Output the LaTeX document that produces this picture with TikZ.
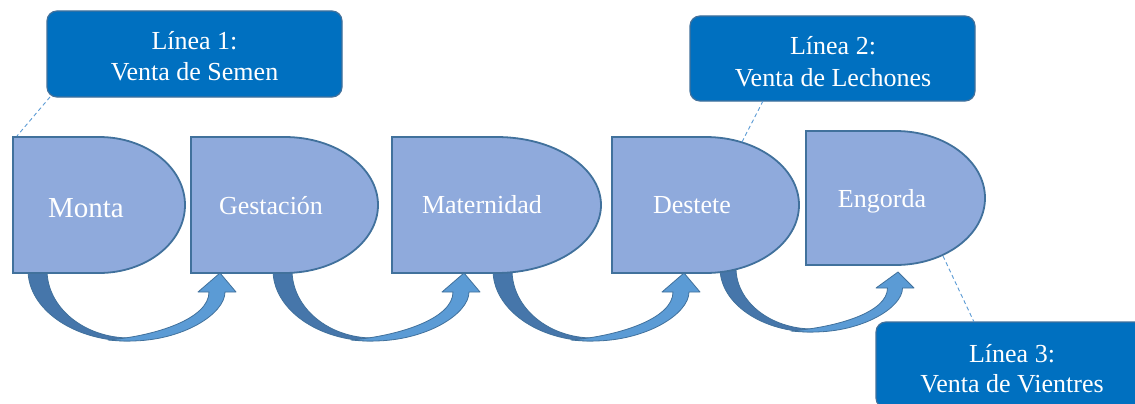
\documentclass[tikz,border=0pt]{standalone}
\usepackage{fontspec}
\setmainfont{Liberation Serif}
\definecolor{shapefill}{RGB}{143,170,220}
\definecolor{shapeline}{RGB}{65,113,156}
\definecolor{calloutfill}{RGB}{0,112,192}
\definecolor{arrowdark}{RGB}{70,118,170}
\definecolor{arrowlight}{RGB}{91,155,213}
\definecolor{leadercol}{RGB}{91,155,213}
\tikzset{
  stage/.style={fill=shapefill, draw=shapeline, line width=1.8pt},
  stagetext/.style={text=white, anchor=base, inner sep=0pt, font=\fontsize{26}{31}\selectfont},
  callout/.style={fill=calloutfill, draw=shapeline, line width=1.2pt, rounded corners=10pt, inner sep=0pt},
  callouttext/.style={text=white, anchor=base, inner sep=0pt, font=\fontsize{26}{31}\selectfont},
  leader/.style={draw=leadercol, line width=0.9pt, dash pattern=on 4pt off 3pt},
  backband/.style={fill=arrowdark, draw=shapeline, line width=0.8pt},
  frontband/.style={fill=arrowlight, draw=shapeline, line width=0.8pt, line join=round},
}
% delay shape: L T R B
\newcommand{\delayshape}[4]{%
  \pgfmathsetmacro{\dM}{(#1+#3)/2}%
  \pgfmathsetmacro{\dC}{(#2+#4)/2}%
  \pgfmathsetmacro{\dkx}{\dM+0.5523*(#3-#1)/2}%
  \pgfmathsetmacro{\dkyA}{\dC-0.5523*(#4-#2)/2}%
  \pgfmathsetmacro{\dkyB}{\dC+0.5523*(#4-#2)/2}%
  \draw[stage] (#1,#2) -- (\dM,#2) .. controls (\dkx,#2) and (#3,\dkyA) .. (#3,\dC)
     .. controls (#3,\dkyB) and (\dkx,#4) .. (\dM,#4) -- (#1,#4) -- cycle;
}
% curved up arrow: a b yt c yb tipx tipy headlen shafthalfwidth
\newcommand{\curvedarrow}[9]{%
  \pgfmathsetmacro{\aoA}{#3+0.5523*(#5-#3)}%
  \pgfmathsetmacro{\aoB}{#4-0.5523*(#4-#1)}%
  \pgfmathsetmacro{\aiy}{#5-3}%
  \pgfmathsetmacro{\aiA}{#4-0.5523*(#4-#2)}%
  \pgfmathsetmacro{\aiB}{#3+0.5523*(\aiy-#3)}%
  \path[backband] (#1,#3) .. controls (#1,\aoA) and (\aoB,#5) .. (#4,#5) -- (#4,\aiy)
     .. controls (\aiA,\aiy) and (#2,\aiB) .. (#2,#3) -- cycle;
  \pgfmathsetmacro{\hx}{#6-3}%
  \pgfmathsetmacro{\yh}{#7+#8}%
  \pgfmathsetmacro{\sR}{\hx+#9}%
  \pgfmathsetmacro{\sL}{\hx-#9}%
  \pgfmathsetmacro{\bR}{\hx+19}%
  \pgfmathsetmacro{\bL}{\hx-19}%
  \pgfmathsetmacro{\lA}{#4+0.5523*(\sR-#4)}%
  \pgfmathsetmacro{\lB}{#5-0.5523*(#5-\yh)}%
  \pgfmathsetmacro{\lS}{#4-22}%
  \pgfmathsetmacro{\lSy}{#5-1}%
  \pgfmathsetmacro{\lQ}{#4-10}%
  \pgfmathsetmacro{\lC}{\yh+0.55*(#5-\yh)}%
  \pgfmathsetmacro{\lD}{#4+25}%
  \pgfmathsetmacro{\lE}{#5-5}%
  \path[frontband] (\lS,\lSy) .. controls (\lQ,#5) .. (#4,#5)
     .. controls (\lA,#5) and (\sR,\lB) .. (\sR,\yh) -- (\bR,\yh) -- (#6,#7) -- (\bL,\yh) -- (\sL,\yh)
     .. controls (\sL,\lC) and (\lD,\lE) .. (\lS,\lSy) -- cycle;
}
\begin{document}
\begin{tikzpicture}[x=1pt,y=-1pt]
\clip (0,0) rectangle (1135,404);
\fill[white] (0,0) rectangle (1135,404);

% curved arrows (behind the stages)
\curvedarrow{28}{47}{270}{130}{341}{220}{273}{19}{8}
\curvedarrow{273}{292}{270}{373}{341}{464}{273}{19}{8}
\curvedarrow{493}{512}{270}{593}{341}{684}{273}{19}{8}
\curvedarrow{720}{736}{268}{813}{332}{898}{272}{16}{7.5}

% stages
\delayshape{13}{137}{185}{273}
\delayshape{191}{137}{378}{273}
\delayshape{392}{137}{601}{273}
\delayshape{612}{137}{799}{273}
\delayshape{806}{131}{985}{265}

\node[stagetext, font=\fontsize{29}{34}\selectfont] (monta) at (86,217) {Monta};
\node[stagetext] (gestacion) at (271,214) {Gestación};
\node[stagetext] (maternidad) at (482,213) {Maternidad};
\node[stagetext] (destete) at (692,213) {Destete};
\node[stagetext] (engorda) at (882,207) {Engorda};

% leader end points
\coordinate (m1) at (17,136);
\coordinate (m2) at (742,142);
\coordinate (m3) at (943,256);

% callouts
\node[callout, minimum width=295pt, minimum height=86pt] (c1) at (194.5,54) {};
\node[callout, minimum width=285pt, minimum height=85pt] (c2) at (832.5,58.5) {};
\node[callout, minimum width=272pt, minimum height=86pt] (c3) at (1012,365) {};

\coordinate (c1p) at (50,97);
\coordinate (c2p) at (763,101);
\coordinate (c3p) at (974,322);
\draw[leader] (c1p) -- (m1);
\draw[leader] (c2p) -- (m2);
\draw[leader] (m3) -- (c3p);

\node[callouttext] (c1a) at (194.5,50) {Línea 1:};
\node[callouttext] (c1b) at (194.5,81) {Venta de Semen};
\node[callouttext] (c2a) at (833,55) {Línea 2:};
\node[callouttext] (c2b) at (833,86) {Venta de Lechones};
\node[callouttext] (c3a) at (1012,362) {Línea 3:};
\node[callouttext] (c3b) at (1012,392) {Venta de Vientres};
\end{tikzpicture}
\end{document}
